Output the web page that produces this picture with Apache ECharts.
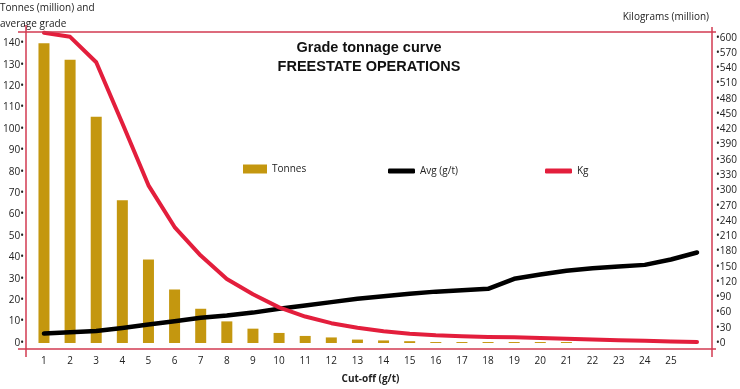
<!DOCTYPE html>
<html>
<head>
<meta charset="utf-8">
<script src="https://cdn.jsdelivr.net/npm/echarts@6/dist/echarts.min.js"></script>
<style>html,body{margin:0;padding:0;background:#fff;}#c{width:740px;height:389px;}</style>
</head>
<body>
<div id="c"></div>
<script>
// ---- data ----
const categories = ['1','2','3','4','5','6','7','8','9','10','11','12','13','14','15','16','17','18','19','20','21','22','23','24','25',''];
const tonnes = [140, 132.3, 105.7, 66.7, 39, 25, 16, 10.1, 6.7, 4.7, 3.3, 2.6, 1.6, 1.2, 0.85, 0.45, 0.45, 0.45, 0.45, 0.45, 0.45, 0, 0, 0, 0, 0];
const avgGrade = [4.4, 5.0, 5.6, 7.0, 8.6, 10.2, 11.8, 12.8, 14.2, 16.0, 17.5, 19.1, 20.7, 21.8, 23.0, 24.0, 24.6, 25.3, 30.0, 32.0, 33.8, 34.9, 35.7, 36.5, 39.0, 42.3];
const kg = [610, 602, 552, 432, 310, 228, 172, 126, 96, 70, 52, 39, 30, 23, 18, 15, 13.5, 12, 11.5, 10, 8.5, 7, 5.5, 4.5, 3, 2];
const leftAxisMax = 145.3;
const rightAxisMax = 611.5;

// ---- layout ----
const G = {left: 26, right: 28, top: 32, bottom: 44.5};
const W = 740, H = 389;
const frameColor = '#d23a50';
const xLineY = 349;
const font = '"Open Sans", "Noto Sans", sans-serif';

const chart = echarts.init(document.getElementById('c'), null, {renderer: 'canvas'});
chart.setOption({
  animation: false,
  backgroundColor: '#fff',
  title: {
    text: 'Grade tonnage curve\nFREESTATE OPERATIONS',
    left: 369, top: 38, textAlign: 'center', padding: 0,
    textStyle: {fontFamily: '"Liberation Sans", Arial, sans-serif', fontWeight: 'bold', fontSize: 14.5, lineHeight: 19, color: '#111'}
  },
  legend: [
    {data: [{name: 'Tonnes', icon: 'rect'}], left: 243, top: 164, padding: 0, itemWidth: 24, itemHeight: 9, itemGap: 0,
     textStyle: {fontFamily: font, fontSize: 10, color: '#222'}},
    {data: [{name: 'Avg (g/t)', icon: 'roundRect'}], left: 388, top: 166, padding: 0, itemWidth: 27, itemHeight: 5, itemGap: 0,
     textStyle: {fontFamily: font, fontSize: 10, color: '#222'}},
    {data: [{name: 'Kg', icon: 'roundRect'}], left: 545, top: 166, padding: 0, itemWidth: 27, itemHeight: 5, itemGap: 0,
     textStyle: {fontFamily: font, fontSize: 10, color: '#222'}}
  ],
  grid: {left: G.left, right: G.right, top: G.top, bottom: G.bottom, containLabel: false},
  xAxis: {
    type: 'category', data: categories, boundaryGap: true,
    axisLine: {show: false}, axisTick: {show: false}, splitLine: {show: false},
    axisLabel: {fontFamily: font, fontSize: 10, color: '#222', margin: 13, interval: 0},
    name: 'Cut-off (g/t)', nameLocation: 'middle', nameGap: 31,
    nameTextStyle: {fontFamily: font, fontSize: 10, fontWeight: 'bold', color: '#222'}
  },
  yAxis: [
    {type: 'value', min: 0, max: leftAxisMax, interval: 10,
     axisLine: {show: false}, axisTick: {show: false}, splitLine: {show: false},
     axisLabel: {fontFamily: font, fontSize: 10, color: '#222', margin: 7,
       formatter: v => (Math.abs(v % 10) < 1e-6 ? v + '•' : '')}},
    {type: 'value', min: 0, max: rightAxisMax, interval: 30, position: 'right',
     axisLine: {show: false}, axisTick: {show: false}, splitLine: {show: false},
     axisLabel: {fontFamily: font, fontSize: 10, color: '#222', margin: 6,
       formatter: v => (Math.abs(v % 30) < 1e-6 ? '•' + v : '')}}
  ],
  series: [
    {name: 'Tonnes', type: 'bar', data: tonnes, yAxisIndex: 0, barWidth: 11,
     itemStyle: {color: '#c4970f'}, z: 1},
    {name: 'Avg (g/t)', type: 'line', data: avgGrade, yAxisIndex: 0, showSymbol: false, smooth: false,
     lineStyle: {color: '#000', width: 4.5, cap: 'round', join: 'round'}, itemStyle: {color: '#000'}, z: 3},
    {name: 'Kg', type: 'line', data: kg, yAxisIndex: 1, showSymbol: false, smooth: false,
     lineStyle: {color: '#e31e3c', width: 4, cap: 'round', join: 'round'}, itemStyle: {color: '#e31e3c'}, z: 4}
  ],
  graphic: [
    {type: 'line', shape: {x1: 18, y1: G.top, x2: W - G.right + 4, y2: G.top}, style: {stroke: frameColor, lineWidth: 1.5}, z: 10},
    {type: 'line', shape: {x1: 18, y1: xLineY, x2: W - G.right + 4, y2: xLineY}, style: {stroke: frameColor, lineWidth: 1.5}, z: 10},
    {type: 'line', shape: {x1: G.left, y1: 25, x2: G.left, y2: 357}, style: {stroke: frameColor, lineWidth: 1.5}, z: 10},
    {type: 'line', shape: {x1: W - G.right, y1: 27, x2: W - G.right, y2: 357}, style: {stroke: frameColor, lineWidth: 1.5}, z: 10},
    {type: 'text', left: 0, top: 0, style: {text: 'Tonnes (million) and\naverage grade', font: '10px ' + font, fill: '#222', lineHeight: 16}},
    {type: 'text', right: 31, top: 12, style: {text: 'Kilograms (million)', font: '10px ' + font, fill: '#222'}}
  ]
});
</script>
</body>
</html>
